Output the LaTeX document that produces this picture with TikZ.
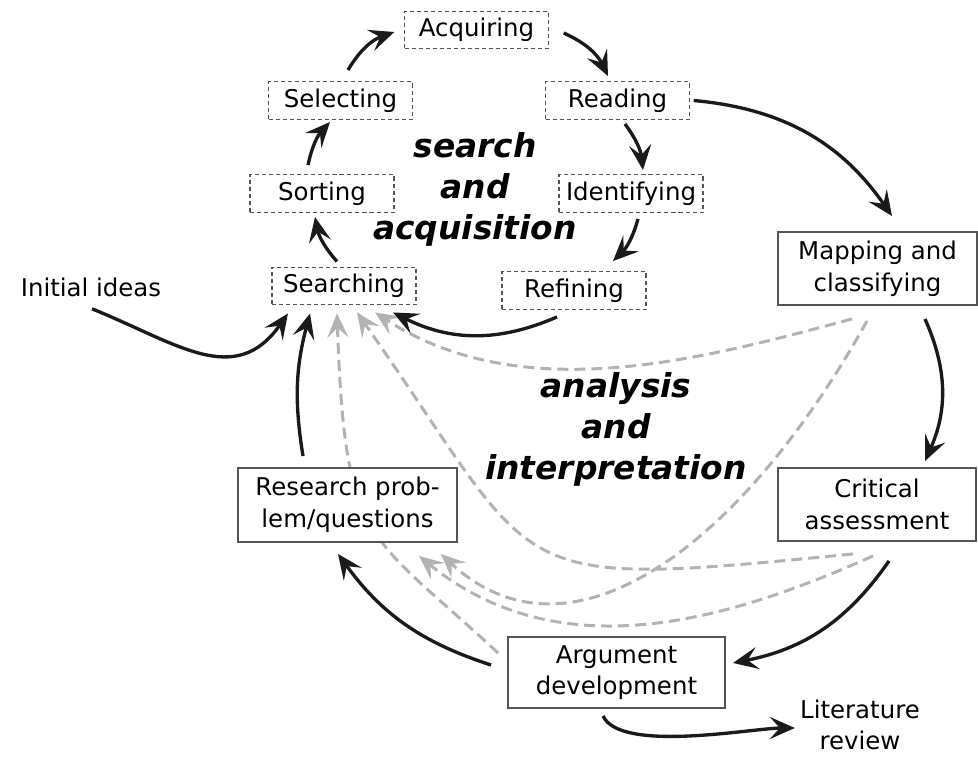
\documentclass[tikz,border=0pt]{standalone}
\usepackage{fontspec}
\setmainfont{DejaVu Sans}
\usepackage{xcolor}
\usepackage{tikz}
\usetikzlibrary{arrows.meta,positioning,backgrounds}
\definecolor{boxline}{HTML}{555555}
\definecolor{feedgray}{HTML}{B3B3B3}
\definecolor{ink}{HTML}{1A1A1A}
\tikzset{
  lstep/.style={draw=boxline,line width=0.8pt,dash pattern=on 2.3pt off 1.7pt,fill=white,minimum width=2.88cm,minimum height=0.75cm,inner sep=0pt},
  lstage/.style={draw=boxline,line width=1.1pt,fill=white,align=center,inner sep=0pt},
  lplain/.style={align=center,inner sep=0pt},
  lphase/.style={font=\fontsize{18.7}{23.3}\selectfont\bfseries\itshape,align=center,inner sep=0pt},
  larr/.style={-{Stealth[length=5mm,width=4.4mm,inset=2mm]},line width=1.9pt,draw=ink},
  lfeed/.style={-{Stealth[length=4.8mm,width=4.2mm,inset=1.9mm]},line width=1.7pt,draw=feedgray,dash pattern=on 0.22cm off 0.12cm}
}

\begin{document}
\begin{tikzpicture}[font=\fontsize{13.9}{18}\selectfont]
  \useasboundingbox (0,0) rectangle (19.56,-15.16);
  \node[lstep] (acq) at (9.53,-0.60) {Acquiring};
  \node[lstep] (read) at (12.35,-2.01) {Reading};
  \node[lstep] (sel) at (6.81,-2.01) {Selecting};
  \node[lstep] (sort) at (6.44,-3.87) {Sorting};
  \node[lstep] (ident) at (12.62,-3.87) {Identifying};
  \node[lstep] (srch) at (6.88,-5.72) {Searching};
  \node[lstep] (ref) at (11.48,-5.81) {Refining};
  \node[lstage,minimum width=3.97cm,minimum height=1.46cm] (map) at (17.55,-5.37) {Mapping and\\classifying};
  \node[lstage,minimum width=3.96cm,minimum height=1.46cm] (crit) at (17.54,-10.09) {Critical\\assessment};
  \node[lstage,minimum width=4.38cm,minimum height=1.48cm] (res) at (6.95,-10.10) {Research prob-\\lem/questions};
  \node[lstage,minimum width=4.34cm,minimum height=1.42cm] (arg) at (12.33,-13.45) {Argument\\development};
  \node[lplain] (init) at (1.82,-5.74) {Initial ideas};
  \node[lplain] (lit) at (17.2,-14.5) {Literature\\review};
  \node[lphase] (sa) at (9.5,-3.78) {search\\and\\acquisition};
  \node[lphase] (ai) at (12.32,-8.58) {analysis\\and\\interpretation};

  \draw[larr] ([shift={(0.15,0.22)}]sel.north) to[bend left=20] ([shift={(-0.19,-0.04)}]acq.west);
  \draw[larr] ([shift={(0.29,-0.06)}]acq.east) to[bend left=20] ([shift={(-0.19,0.1)}]read.north);
  \draw[larr] ([shift={(0.15,-0.08)}]read.south) to[bend left=15] ([shift={(0.24,0.08)}]ident.north);
  \draw[larr] ([shift={(0.14,-0.12)}]ident.south) to[bend left=15] ([shift={(0.78,0.2)}]ref.north);
  \draw[larr] ([shift={(-0.34,-0.14)}]ref.south) to[bend left=25] ([shift={(0.98,-0.14)}]srch.south);
  \draw[larr] ([shift={(-0.14,0.1)}]srch.north) to[bend left=15] ([shift={(-0.14,-0.08)}]sort.south);
  \draw[larr] ([shift={(-0.28,0.18)}]sort.north) to[bend left=15] ([shift={(-0.21,-0.04)}]sel.south);
  \draw[larr] ([shift={(0.07,0)}]read.east) to[bend left=25] ([shift={(0.29,0.3)}]map.north);
  \draw[larr] ([shift={(0.95,-0.26)}]map.south) to[bend left=24] ([shift={(0.96,0.12)}]crit.north);
  \draw[larr] ([shift={(0.24,-0.38)}]crit.south) to[bend left=22] ([shift={(0.14,0.19)}]arg.east);
  \draw[larr] ([shift={(-0.32,0.15)}]arg.west) to[bend left=18] ([shift={(-0.19,-0.22)}]res.south);
  \draw[larr] ([shift={(-0.89,0.22)}]res.north) to[bend left=12] ([shift={(-0.68,-0.16)}]srch.south);
  \draw[larr] ([shift={(0.02,-0.24)}]init.south) to[out=-22,in=-125,looseness=1.2] ([shift={(-1.12,-0.16)}]srch.south);
  \draw[larr] ([shift={(-0.27,-0.14)}]arg.south) to[out=-65,in=180,looseness=0.55] ([shift={(-0.1,-0.06)}]lit.west);

  \begin{scope}[on background layer]
    \draw[lfeed] ([shift={(-0.18,0.39)}]arg.west) .. controls +(137:3.58) and +(-88:4.68) .. ([shift={(-0.14,-0.16)}]srch.south);
    \draw[lfeed] ([shift={(-0.48,-0.24)}]crit.south) .. controls +(185.6:7.2) and +(-55:6.6) .. ([shift={(0.26,-0.14)}]srch.south);
    \draw[lfeed] ([shift={(-0.51,-0.26)}]map.south) .. controls +(195:3.07) and +(-33:3.53) .. ([shift={(0.62,-0.14)}]srch.south);
    \draw[lfeed] ([shift={(-0.21,-0.3)}]map.south) .. controls +(241:5) and +(-43:3.6) .. ([shift={(1.87,-0.22)}]res.south);
    \draw[lfeed] ([shift={(-0.08,-0.28)}]crit.south) .. controls +(204:3.12) and +(-39:3.67) .. ([shift={(1.43,-0.26)}]res.south);
  \end{scope}
\end{tikzpicture}
\end{document}
